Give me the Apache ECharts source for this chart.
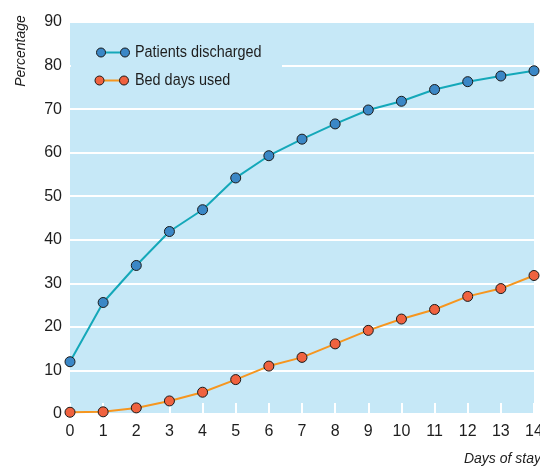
<!DOCTYPE html>
<html><head><meta charset="utf-8">
<script src="https://cdn.jsdelivr.net/npm/echarts@6/dist/echarts.min.js"></script>
<style>html,body{margin:0;padding:0;background:#fff}#c{width:540px;height:468px}</style>
</head><body><div id="c"></div>
<script>
var days = ['0','1','2','3','4','5','6','7','8','9','10','11','12','13','14'];
var patientsDischarged = [12.0, 25.6, 34.1, 41.9, 46.9, 54.2, 59.3, 63.1, 66.6, 69.8, 71.8, 74.5, 76.3, 77.6, 78.8];
var bedDaysUsed = [0.4, 0.5, 1.4, 3.0, 5.0, 7.9, 11.0, 13.0, 16.1, 19.2, 21.8, 24.0, 27.0, 28.8, 31.8];
var seriesNames = ['Patients discharged', 'Bed days used'];
var axisNames = ['Days of stay', 'Percentage'];

var FONT = '"Liberation Sans", Arial, sans-serif';
var BG = '#c6e8f7';
var TXT = '#1e1e1e';
var chart = echarts.init(document.getElementById('c'), null, {renderer: 'canvas'});
var gLeft = 70, gRight = 6, gTop = 22, gBottom = 54;
chart.setOption({
  animation: false,
  backgroundColor: '#fff',
  grid: {left: gLeft, right: gRight, top: gTop, bottom: gBottom, show: true, backgroundColor: BG, borderWidth: 0,
         containLabel: false, outerBoundsMode: 'none'},
  xAxis: {
    type: 'category', data: days, boundaryGap: false,
    axisLine: {show: false},
    axisTick: {show: true, inside: true, length: 11, lineStyle: {color: '#fff', width: 2}},
    axisLabel: {color: TXT, fontFamily: FONT, fontSize: 16, margin: 10}
  },
  yAxis: {
    type: 'value', min: 0, max: 90, interval: 10,
    axisLine: {show: false}, axisTick: {show: false},
    splitLine: {show: true, lineStyle: {color: '#fff', width: 2}},
    axisLabel: {color: TXT, fontFamily: FONT, fontSize: 16, margin: 8}
  },
  graphic: [
    {type: 'rect', shape: {x: gLeft + 1, y: 62, width: 211, height: 10}, style: {fill: BG}, z: 1, silent: true},
    {type: 'line', shape: {x1: 101, y1: 52.5, x2: 125, y2: 52.5}, style: {stroke: '#14a8b9', lineWidth: 2}, z: 5},
    {type: 'circle', shape: {cx: 101, cy: 52.5, r: 4.5}, style: {fill: '#3b87c6', stroke: '#1a1a1a', lineWidth: 1}, z: 6},
    {type: 'circle', shape: {cx: 125, cy: 52.5, r: 4.5}, style: {fill: '#3b87c6', stroke: '#1a1a1a', lineWidth: 1}, z: 6},
    {type: 'text', x: 135, y: 52.5, scaleX: 0.9, style: {text: seriesNames[0], fontFamily: 'Liberation Sans', fontSize: 16, fill: TXT, textAlign: 'left', textVerticalAlign: 'middle'}, z: 6},
    {type: 'line', shape: {x1: 99.5, y1: 80.5, x2: 124, y2: 80.5}, style: {stroke: '#f6961f', lineWidth: 2}, z: 5},
    {type: 'circle', shape: {cx: 99.5, cy: 80.5, r: 4.5}, style: {fill: '#f0623f', stroke: '#1a1a1a', lineWidth: 1}, z: 6},
    {type: 'circle', shape: {cx: 124, cy: 80.5, r: 4.5}, style: {fill: '#f0623f', stroke: '#1a1a1a', lineWidth: 1}, z: 6},
    {type: 'text', x: 135, y: 80.5, scaleX: 0.9, style: {text: seriesNames[1], fontFamily: 'Liberation Sans', fontSize: 16, fill: TXT, textAlign: 'left', textVerticalAlign: 'middle'}, z: 6},
    {type: 'text', x: 541, y: 459, style: {text: axisNames[0], fontFamily: 'Liberation Sans', fontStyle: 'italic', fontSize: 14, fill: TXT, textAlign: 'right', textVerticalAlign: 'middle'}, z: 6},
    {type: 'text', x: 21, y: 51, rotation: Math.PI / 2, style: {text: axisNames[1], fontFamily: 'Liberation Sans', fontStyle: 'italic', fontSize: 14, fill: TXT, textAlign: 'center', textVerticalAlign: 'middle'}, z: 6}
  ],
  series: [
    {name: seriesNames[0], type: 'line', data: patientsDischarged, symbol: 'circle', symbolSize: 10, smooth: false, z: 3,
     lineStyle: {color: '#14a8b9', width: 2}, itemStyle: {color: '#3b87c6', borderColor: '#1a1a1a', borderWidth: 1}},
    {name: seriesNames[1], type: 'line', data: bedDaysUsed, symbol: 'circle', symbolSize: 10, smooth: false, z: 3,
     lineStyle: {color: '#f6961f', width: 2}, itemStyle: {color: '#f0623f', borderColor: '#1a1a1a', borderWidth: 1}}
  ]
});
</script></body></html>
